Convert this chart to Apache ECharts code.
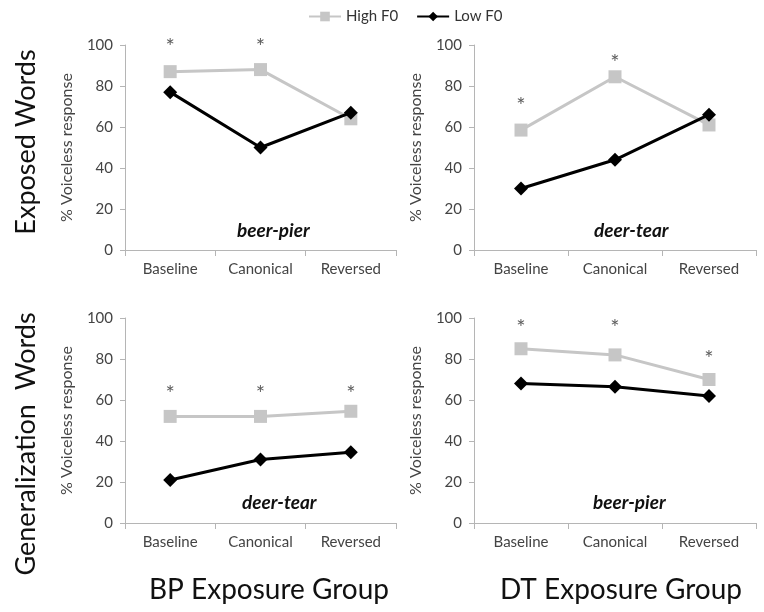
<!DOCTYPE html>
<html><head><meta charset="utf-8">
<script src="https://cdn.jsdelivr.net/npm/echarts@6/dist/echarts.min.js"></script>
<style>html,body{margin:0;padding:0;background:#fff}#c{width:764px;height:612px}</style>
</head><body><div id="c"></div>
<script>
const categories = ['Baseline', 'Canonical', 'Reversed'];
const yTicks = [0, 20, 40, 60, 80, 100];
// Top-left: BP exposure group, exposed words (beer-pier)
const bpExposedHigh = [87, 88, 64];
const bpExposedLow = [77, 50, 67];
const bpExposedStars = [101, 101, null];
// Top-right: DT exposure group, exposed words (deer-tear)
const dtExposedHigh = [58.5, 84.5, 61];
const dtExposedLow = [30, 44, 66];
const dtExposedStars = [72, 93, null];
// Bottom-left: BP exposure group, generalization words (deer-tear)
const bpGenHigh = [52, 52, 54.5];
const bpGenLow = [21, 31, 34.5];
const bpGenStars = [65, 65, 65];
// Bottom-right: DT exposure group, generalization words (beer-pier)
const dtGenHigh = [85, 82, 70];
const dtGenLow = [68, 66.5, 62];
const dtGenStars = [97, 97, 82];

const FONT = 'Lato';
const panels = [
  {high: bpExposedHigh, low: bpExposedLow, stars: bpExposedStars, grid: {left: 125, top: 45, width: 271, height: 205}},
  {high: dtExposedHigh, low: dtExposedLow, stars: dtExposedStars, grid: {left: 474, top: 45, width: 282, height: 205}},
  {high: bpGenHigh, low: bpGenLow, stars: bpGenStars, grid: {left: 125, top: 318, width: 271, height: 205}},
  {high: dtGenHigh, low: dtGenLow, stars: dtGenStars, grid: {left: 474, top: 318, width: 282, height: 205}}
];
const axisCol = '#b5b5b5';
const grids = [], xAxes = [], yAxes = [], series = [];
panels.forEach((p, i) => {
  grids.push(p.grid);
  xAxes.push({type: 'category', gridIndex: i, data: categories, boundaryGap: true,
    axisLine: {lineStyle: {color: axisCol, width: 1}},
    axisTick: {show: true, alignWithLabel: false, length: 6, lineStyle: {color: axisCol}},
    axisLabel: {color: '#444', fontFamily: FONT, fontSize: 15, margin: 12}});
  yAxes.push({type: 'value', gridIndex: i, min: yTicks[0], max: yTicks[yTicks.length - 1], interval: 20,
    name: '% Voiceless response', nameLocation: 'middle', nameGap: 50, nameRotate: 90,
    nameTextStyle: {color: '#444', fontFamily: FONT, fontSize: 16},
    axisLine: {show: true, lineStyle: {color: axisCol, width: 1}},
    axisTick: {show: true, length: 5, lineStyle: {color: axisCol}},
    splitLine: {show: false},
    axisLabel: {color: '#444', fontFamily: FONT, fontSize: 15, margin: 12}});
  series.push({name: 'High F0', type: 'line', xAxisIndex: i, yAxisIndex: i, data: p.high,
    symbol: 'rect', symbolSize: 13, lineStyle: {color: '#c6c6c6', width: 3},
    itemStyle: {color: '#c6c6c6'}, z: 2});
  series.push({name: 'Low F0', type: 'line', xAxisIndex: i, yAxisIndex: i, data: p.low,
    symbol: 'diamond', symbolSize: 14, lineStyle: {color: '#000', width: 3},
    itemStyle: {color: '#000'}, z: 3});
  series.push({name: 'sig', type: 'scatter', xAxisIndex: i, yAxisIndex: i, data: p.stars,
    symbolSize: 1, itemStyle: {color: 'rgba(0,0,0,0)'}, clip: false, silent: true,
    label: {show: true, position: 'inside', offset: [0, 4], formatter: '*', color: '#333', fontFamily: FONT, fontSize: 22}});
});

const chart = echarts.init(document.getElementById('c'), null, {renderer: 'canvas'});
chart.setOption({
  animation: false,
  backgroundColor: '#fff',
  legend: {data: ['High F0', 'Low F0'], top: 4, left: 303, itemWidth: 32, itemHeight: 12, itemGap: 18,
    textStyle: {fontFamily: FONT, fontSize: 15, color: '#333'}},
  grid: grids, xAxis: xAxes, yAxis: yAxes, series: series,
  graphic: [
    {type: 'text', left: 237, top: 221, style: {text: 'beer-pier', font: 'italic bold 19px ' + FONT, fill: '#111'}},
    {type: 'text', left: 594, top: 221, style: {text: 'deer-tear', font: 'italic bold 19px ' + FONT, fill: '#111'}},
    {type: 'text', left: 242, top: 493, style: {text: 'deer-tear', font: 'italic bold 19px ' + FONT, fill: '#111'}},
    {type: 'text', left: 593, top: 493, style: {text: 'beer-pier', font: 'italic bold 19px ' + FONT, fill: '#111'}},
    {type: 'text', x: 26, y: 142, rotation: Math.PI / 2,
      style: {text: 'Exposed Words', font: '27px ' + FONT, fill: '#111', textAlign: 'center', textVerticalAlign: 'middle'}},
    {type: 'text', x: 26, y: 444, rotation: Math.PI / 2,
      style: {text: 'Generalization  Words', font: '27px ' + FONT, fill: '#111', textAlign: 'center', textVerticalAlign: 'middle'}},
    {type: 'text', x: 269, y: 590, style: {text: 'BP Exposure Group', font: '28px ' + FONT, fill: '#111', textAlign: 'center', textVerticalAlign: 'middle'}},
    {type: 'text', x: 621, y: 590, style: {text: 'DT Exposure Group', font: '28px ' + FONT, fill: '#111', textAlign: 'center', textVerticalAlign: 'middle'}}
  ]
});
</script></body></html>
